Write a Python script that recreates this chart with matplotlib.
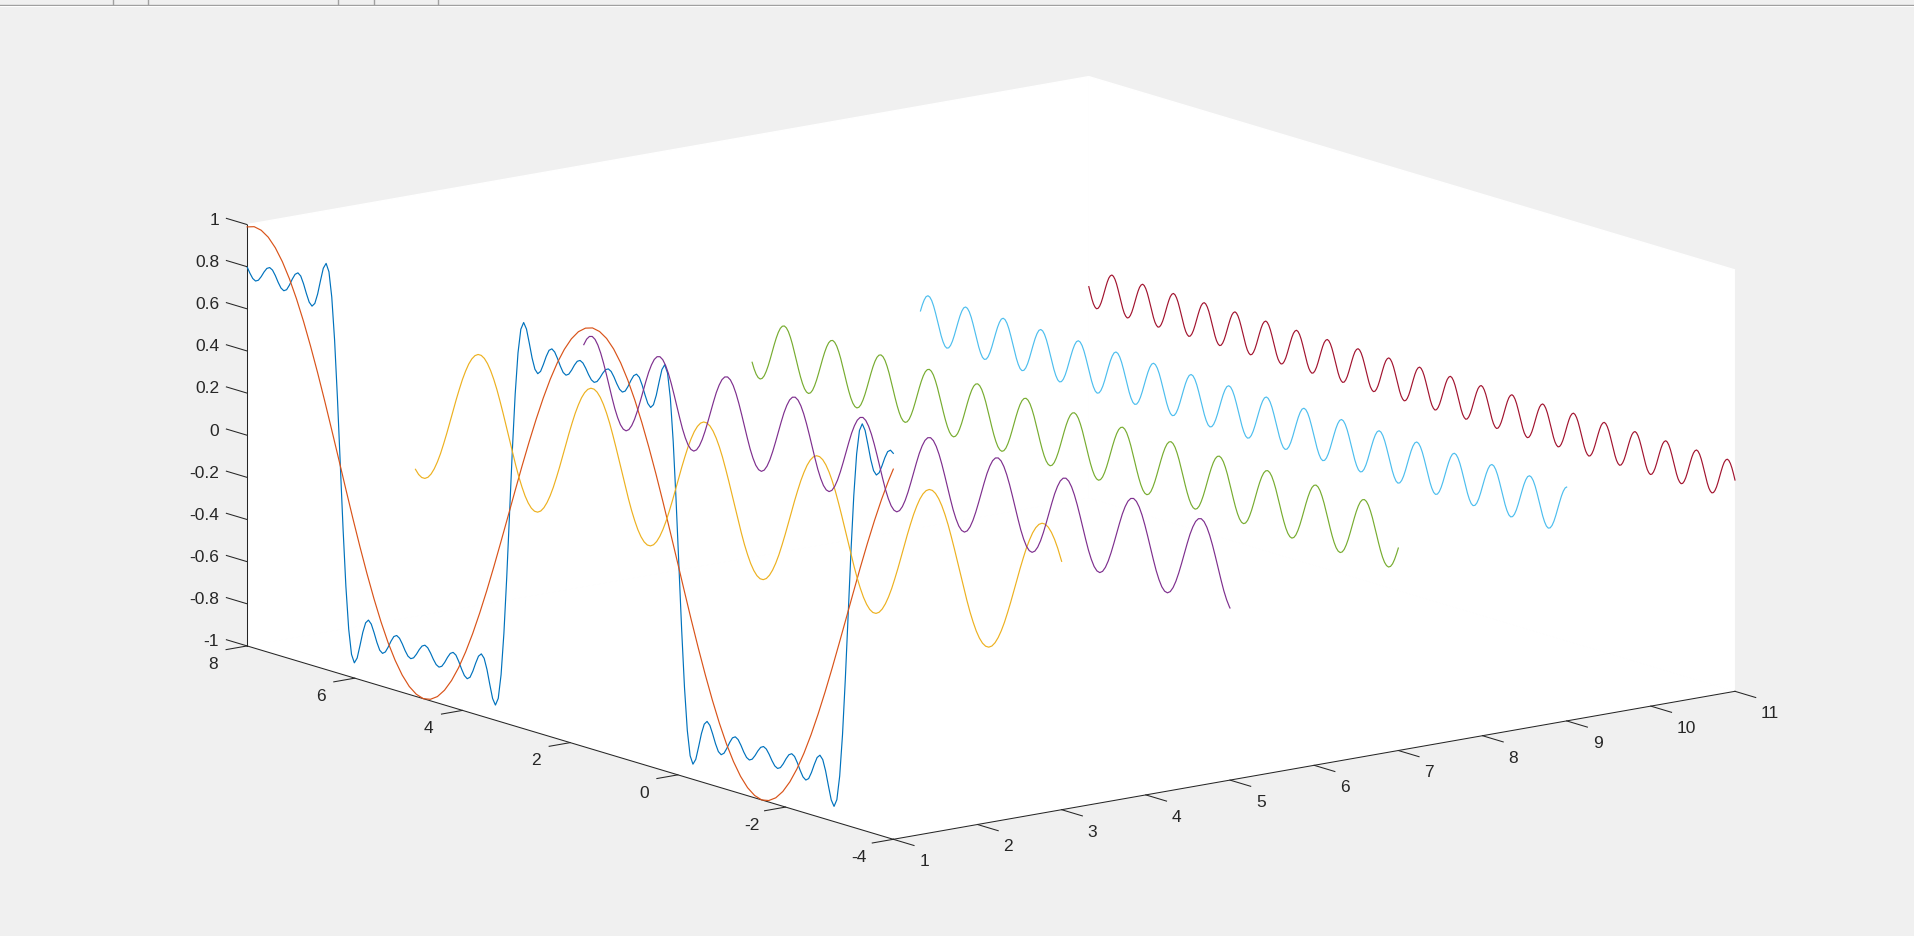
"""Partial sums of a square wave drawn on a 3D box, MATLAB plot3 look"""
import matplotlib
matplotlib.use('Agg')
import matplotlib.pyplot as plt
import numpy as np
from matplotlib.lines import Line2D
from mpl_toolkits.mplot3d import proj3d

plt.rcParams['font.family'] = ['Liberation Sans', 'DejaVu Sans']

x_ticks = [1, 2, 3, 4, 5, 6, 7, 8, 9, 10, 11]
y_ticks = [-4, -2, 0, 2, 4, 6, 8]
z_ticks = [-1, -0.8, -0.6, -0.4, -0.2, 0, 0.2, 0.4, 0.6, 0.8, 1]
x_tick_labels = ['1', '2', '3', '4', '5', '6', '7', '8', '9', '10', '11']
y_tick_labels = ['-4', '-2', '0', '2', '4', '6', '8']
z_tick_labels = ['-1', '-0.8', '-0.6', '-0.4', '-0.2', '0', '0.2', '0.4', '0.6', '0.8', '1']

# where each curve sits along x
plane_blue = 1
plane_red = 1
plane_orange = 3
plane_purple = 5
plane_green = 7
plane_cyan = 9
plane_wine = 11

# values, from y=8 down to y=-4
z_blue = [
    .799, .773, .752, .744, .752, .773, .799, .820, .828, .820, .798, .770, .747, .738, .747, .773, .805,
    .832, .843, .832, .799, .757, .720, .705, .722, .771, .838, .901, .928, .892, .776, .576, .307, 0,
    -.307, -.576, -.776, -.892, -.928, -.901, -.838, -.771, -.722, -.705, -.720, -.757, -.799, -.832, -.843,
    -.832, -.805, -.773, -.747, -.738, -.747, -.770, -.798, -.820, -.828, -.820, -.799, -.773, -.752, -.744,
    -.752, -.773, -.799, -.820, -.828, -.820, -.798, -.770, -.747, -.738, -.747, -.773, -.805, -.832, -.843,
    -.832, -.799, -.757, -.720, -.705, -.722, -.771, -.838, -.901, -.928, -.892, -.776, -.576, -.307, 0,
    .307, .576, .776, .892, .928, .901, .838, .771, .722, .705, .720, .757, .799, .832, .843,
    .832, .805, .773, .747, .738, .747, .770, .798, .820, .828, .820, .799, .773, .752, .744,
    .752, .773, .799, .820, .828, .820, .798, .770, .747, .738, .747, .773, .805, .832, .843,
    .832, .799, .757, .720, .705, .722, .771, .838, .901, .928, .892, .776, .576, .307, 0,
    -.307, -.576, -.776, -.892, -.928, -.901, -.838, -.771, -.722, -.705, -.720, -.757, -.799, -.832, -.843,
    -.832, -.805, -.773, -.747, -.738, -.747, -.770, -.798, -.820, -.828, -.820, -.799, -.773, -.752, -.744,
    -.752, -.773, -.799, -.820, -.828, -.820, -.798, -.770, -.747, -.738, -.747, -.773, -.805, -.832, -.843,
    -.832, -.799, -.757, -.720, -.705, -.722, -.771, -.838, -.901, -.928, -.892, -.776, -.576, -.307, 0,
    .307, .576, .776, .892, .928, .901, .838, .771, .722, .705, .720, .757, .799, .832, .843, .832,
]
z_red = [
    .989, 1.0, .993, .970, .930, .874, .803, .718, .621, .513, .397, .274, .146, .016, -.115, -.244, -.368, -.486, -.596, -.696, -.784, -.858, -.918, -.962,
    -.989, -1.0, -.993, -.970, -.930, -.874, -.803, -.718, -.621, -.513, -.397, -.274, -.146, -.016, .115, .244, .368, .486, .596, .696, .784, .858, .918, .962,
    .989, 1.0, .993, .970, .930, .874, .803, .718, .621, .513, .397, .274, .146, .016, -.115, -.244, -.368, -.486, -.596, -.696, -.784, -.858, -.918, -.962,
    -.989, -1.0, -.993, -.970, -.930, -.874, -.803, -.718, -.621, -.513, -.397, -.274, -.146, -.016, .115, .244, .368, .486, .596, .696, .757,
]
z_orange = [
    -.302, -.322, -.332, -.332, -.322, -.302, -.273, -.236, -.192, -.141, -.087, -.030, .028, .086, .140, .191, .235, .273,
    .302, .322, .332, .332, .322, .302, .273, .236, .192, .141, .087, .030, -.028, -.086, -.140, -.191, -.235, -.273,
    -.302, -.322, -.332, -.332, -.322, -.302, -.273, -.236, -.192, -.141, -.087, -.030, .028, .086, .140, .191, .235, .273,
    .302, .322, .332, .332, .322, .302, .273, .236, .192, .141, .087, .030, -.028, -.086, -.140, -.191, -.235, -.273,
    -.302, -.322, -.332, -.332, -.322, -.302, -.273, -.236, -.192, -.141, -.087, -.030, .028, .086, .140, .191, .235, .273,
    .302, .322, .332, .332, .322, .302, .273, .236, .192, .141, .087, .030, -.028, -.086, -.140, -.191, -.235, -.273,
    -.302, -.322, -.332, -.332, -.322, -.302, -.273, -.236, -.192, -.141, -.087, -.030, .028, .086, .140, .191, .235, .273,
    .302, .322, .332, .332, .322, .302, .273, .236, .192, .141, .087, .030, -.028, -.086, -.140, -.191, -.235, -.273,
    -.302, -.322, -.332, -.332, -.322, -.302, -.273, -.236, -.192, -.141, -.087, -.030, .028, .086, .140, .191, .235, .273,
    .302, .322, .332, .332, .322, .302, .273, .236, .192, .141, .087, .030, -.028, -.086, -.140, -.191, -.235, -.273,
    -.302, -.322, -.332, -.332, -.322, -.302, -.273, -.236, -.192, -.141, -.087, -.030, .028, .086, .140, .191, .235, .273,
    .302, .322, .332, .332, .322, .302, .273, .236, .192, .179,
]
z_purple = [
    .149, .179, .196, .200, .190, .167, .133, .090, .041, -.011, -.062, -.110, -.149, -.179, -.196, -.200, -.190, -.167, -.133, -.090, -.041, .011, .062, .110,
    .149, .179, .196, .200, .190, .167, .133, .090, .041, -.011, -.062, -.110, -.149, -.179, -.196, -.200, -.190, -.167, -.133, -.090, -.041, .011, .062, .110,
    .149, .179, .196, .200, .190, .167, .133, .090, .041, -.011, -.062, -.110, -.149, -.179, -.196, -.200, -.190, -.167, -.133, -.090, -.041, .011, .062, .110,
    .149, .179, .196, .200, .190, .167, .133, .090, .041, -.011, -.062, -.110, -.149, -.179, -.196, -.200, -.190, -.167, -.133, -.090, -.041, .011, .062, .110,
    .149, .179, .196, .200, .190, .167, .133, .090, .041, -.011, -.062, -.110, -.149, -.179, -.196, -.200, -.190, -.167, -.133, -.090, -.041, .011, .062, .110,
    .149, .179, .196, .200, .190, .167, .133, .090, .041, -.011, -.062, -.110, -.149, -.179, -.196, -.200, -.190, -.167, -.133, -.090, -.041, .011, .062, .110,
    .149, .179, .196, .200, .190, .167, .133, .090, .041, -.011, -.062, -.110, -.149, -.179, -.196, -.200, -.190, -.167, -.133, -.090, -.041, .011, .062, .110,
    .149, .179, .196, .200, .190, .167, .133, .090, .041, -.011, -.062, -.110, -.149, -.179, -.196, -.200, -.190, -.167, -.133, -.090, -.041, .011, .062, .110,
    .149, .179, .196, .200, .190, .167, .133, .090, .041, -.011, -.062, -.110, -.149, -.179, -.196, -.200, -.190, -.167, -.133, -.090, -.041, .011, .062, .110,
    .149, .179, .196, .200, .190, .167, .133, .090, .041, -.011, -.062, -.110, -.149, -.179, -.183,
]
z_green = [
    -.075, -.104, -.126, -.139, -.143, -.137, -.122, -.098, -.068, -.033, .004, .041, .075, .104, .126, .139, .143, .137, .122, .098, .068, .033, -.004, -.041,
    -.075, -.104, -.126, -.139, -.143, -.137, -.122, -.098, -.068, -.033, .004, .041, .075, .104, .126, .139, .143, .137, .122, .098, .068, .033, -.004, -.041,
    -.075, -.104, -.126, -.139, -.143, -.137, -.122, -.098, -.068, -.033, .004, .041, .075, .104, .126, .139, .143, .137, .122, .098, .068, .033, -.004, -.041,
    -.075, -.104, -.126, -.139, -.143, -.137, -.122, -.098, -.068, -.033, .004, .041, .075, .104, .126, .139, .143, .137, .122, .098, .068, .033, -.004, -.041,
    -.075, -.104, -.126, -.139, -.143, -.137, -.122, -.098, -.068, -.033, .004, .041, .075, .104, .126, .139, .143, .137, .122, .098, .068, .033, -.004, -.041,
    -.075, -.104, -.126, -.139, -.143, -.137, -.122, -.098, -.068, -.033, .004, .041, .075, .104, .126, .139, .143, .137, .122, .098, .068, .033, -.004, -.041,
    -.075, -.104, -.126, -.139, -.143, -.137, -.122, -.098, -.068, -.033, .004, .041, .075, .104, .126, .139, .143, .137, .122, .098, .068, .033, -.004, -.041,
    -.075, -.104, -.126, -.139, -.143, -.137, -.122, -.098, -.068, -.033, .004, .041, .075, .104, .126, .139, .143, .137, .122, .098, .068, .033, -.004, -.041,
    -.075, -.104, -.126, -.139, -.143, -.137, -.122, -.098, -.068, -.033, .004, .041, .075, .104, .126, .139, .143, .137, .122, .098, .068, .033, -.004, -.041,
    -.075, -.104, -.126, -.139, -.143, -.137, -.122, -.098, -.068, -.033, .004, .041, .075, .104, .126, .139, .143, .137, .122, .098, .068, .033, -.004, -.041,
    -.075, -.104, -.126, -.139, -.143, -.137, -.122, -.098, -.068, -.033, .004, .041, .075, .104, .126, .139, .143, .137, .122, .098, .068, .033, -.004, -.041,
    -.075, -.104, -.126, -.139, -.143, -.137, -.122, -.098, -.068, -.033, .004, .041, .075, .104, .126, .139, .143, .137, .122, .098, .068, .033, -.004, -.041,
    -.075, -.104, -.126, -.139, -.143, -.137, -.122, -.098, -.068, -.033, .004, .041, .075, .104, .126, .139, .143, .137, .122, .098, .068, .033, -.004, -.041,
    -.075, -.104, -.126, -.139, -.143, -.137, -.122, -.098, -.068, -.039,
]
z_cyan = [
    .028, .060, .086, .104, .111, .107, .093, .070, .040, .006, -.028, -.060, -.086, -.104, -.111, -.107, -.093, -.070, -.040, -.006,
    .028, .060, .086, .104, .111, .107, .093, .070, .040, .006, -.028, -.060, -.086, -.104, -.111, -.107, -.093, -.070, -.040, -.006,
    .028, .060, .086, .104, .111, .107, .093, .070, .040, .006, -.028, -.060, -.086, -.104, -.111, -.107, -.093, -.070, -.040, -.006,
    .028, .060, .086, .104, .111, .107, .093, .070, .040, .006, -.028, -.060, -.086, -.104, -.111, -.107, -.093, -.070, -.040, -.006,
    .028, .060, .086, .104, .111, .107, .093, .070, .040, .006, -.028, -.060, -.086, -.104, -.111, -.107, -.093, -.070, -.040, -.006,
    .028, .060, .086, .104, .111, .107, .093, .070, .040, .006, -.028, -.060, -.086, -.104, -.111, -.107, -.093, -.070, -.040, -.006,
    .028, .060, .086, .104, .111, .107, .093, .070, .040, .006, -.028, -.060, -.086, -.104, -.111, -.107, -.093, -.070, -.040, -.006,
    .028, .060, .086, .104, .111, .107, .093, .070, .040, .006, -.028, -.060, -.086, -.104, -.111, -.107, -.093, -.070, -.040, -.006,
    .028, .060, .086, .104, .111, .107, .093, .070, .040, .006, -.028, -.060, -.086, -.104, -.111, -.107, -.093, -.070, -.040, -.006,
    .028, .060, .086, .104, .111, .107, .093, .070, .040, .006, -.028, -.060, -.086, -.104, -.111, -.107, -.093, -.070, -.040, -.006,
    .028, .060, .086, .104, .111, .107, .093, .070, .040, .006, -.028, -.060, -.086, -.104, -.111, -.107, -.093, -.070, -.040, -.006,
    .028, .060, .086, .104, .111, .107, .093, .070, .040, .006, -.028, -.060, -.086, -.104, -.111, -.107, -.093, -.070, -.040, -.006,
    .028, .060, .086, .104, .111, .107, .093, .070, .040, .006, -.028, -.060, -.086, -.104, -.111, -.107, -.093, -.070, -.040, -.006,
    .028, .060, .086, .104, .111, .107, .093, .070, .040, .006, -.028, -.060, -.086, -.104, -.111, -.107, -.093, -.070, -.040, -.006,
    .028, .060, .086, .104, .111, .107, .093, .070, .040, .006, -.028, -.060, -.086, -.104, -.111, -.107, -.093, -.070, -.040, -.006,
    .028, .060, .086, .104, .111, .107, .093, .070, .040, .006, -.028, -.060, -.086, -.104, -.111, -.107, -.093, -.070, -.040, -.006,
    .028, .060, .086, .104, .111, .107, .093, .070, .040, .006, -.028, -.060, -.086, -.104, -.111, -.107, -.093, -.070, -.040, -.006,
    .028, .060, .086, .104, .110,
]
z_wine = [
    .003, -.025, -.051, -.072, -.085, -.091, -.087, -.075, -.056, -.031, -.003, .025, .051, .072, .085, .091, .087, .075, .056, .031,
    .003, -.025, -.051, -.072, -.085, -.091, -.087, -.075, -.056, -.031, -.003, .025, .051, .072, .085, .091, .087, .075, .056, .031,
    .003, -.025, -.051, -.072, -.085, -.091, -.087, -.075, -.056, -.031, -.003, .025, .051, .072, .085, .091, .087, .075, .056, .031,
    .003, -.025, -.051, -.072, -.085, -.091, -.087, -.075, -.056, -.031, -.003, .025, .051, .072, .085, .091, .087, .075, .056, .031,
    .003, -.025, -.051, -.072, -.085, -.091, -.087, -.075, -.056, -.031, -.003, .025, .051, .072, .085, .091, .087, .075, .056, .031,
    .003, -.025, -.051, -.072, -.085, -.091, -.087, -.075, -.056, -.031, -.003, .025, .051, .072, .085, .091, .087, .075, .056, .031,
    .003, -.025, -.051, -.072, -.085, -.091, -.087, -.075, -.056, -.031, -.003, .025, .051, .072, .085, .091, .087, .075, .056, .031,
    .003, -.025, -.051, -.072, -.085, -.091, -.087, -.075, -.056, -.031, -.003, .025, .051, .072, .085, .091, .087, .075, .056, .031,
    .003, -.025, -.051, -.072, -.085, -.091, -.087, -.075, -.056, -.031, -.003, .025, .051, .072, .085, .091, .087, .075, .056, .031,
    .003, -.025, -.051, -.072, -.085, -.091, -.087, -.075, -.056, -.031, -.003, .025, .051, .072, .085, .091, .087, .075, .056, .031,
    .003, -.025, -.051, -.072, -.085, -.091, -.087, -.075, -.056, -.031, -.003, .025, .051, .072, .085, .091, .087, .075, .056, .031,
    .003, -.025, -.051, -.072, -.085, -.091, -.087, -.075, -.056, -.031, -.003, .025, .051, .072, .085, .091, .087, .075, .056, .031,
    .003, -.025, -.051, -.072, -.085, -.091, -.087, -.075, -.056, -.031, -.003, .025, .051, .072, .085, .091, .087, .075, .056, .031,
    .003, -.025, -.051, -.072, -.085, -.091, -.087, -.075, -.056, -.031, -.003, .025, .051, .072, .085, .091, .087, .075, .056, .031,
    .003, -.025, -.051, -.072, -.085, -.091, -.087, -.075, -.056, -.031, -.003, .025, .051, .072, .085, .091, .087, .075, .056, .031,
    .003, -.025, -.051, -.072, -.085, -.091, -.087, -.075, -.056, -.031, -.003, .025, .051, .072, .085, .091, .087, .075, .056, .031,
    .003, -.025, -.051, -.072, -.085, -.091, -.087, -.075, -.056, -.031, -.003, .025, .051, .072, .085, .091, .087, .075, .056, .031,
    .003, -.025, -.051, -.072, -.085, -.091, -.087, -.075, -.056, -.031, -.003, .025, .051, .072, .085, .091, .087, .075, .056, .031,
    .003, -.025, -.051, -.072, -.085, -.091, -.087, -.075, -.056, -.031, -.003, .025, .051, .072, .085, .091, .087, .075, .056, .031,
    .003, -.025, -.051, -.072, -.085, -.091, -.087, -.075, -.056, -.031, -.003, .025, .051, .072, .085, .091, .087, .075, .056, .031,
    .003, -.025, -.051, -.072, -.085, -.091, -.087, -.075, -.056, -.031, -.003, .025, .051, .072, .085, .091, .087, .075, .056, .031,
    .003,
]

# y positions of the samples, the last one lands on the -4 wall
y_blue = np.linspace(8, -4, len(z_blue))
y_red = np.r_[np.arange(8, -4, -0.1309), -4]
y_orange = np.r_[np.arange(8, -4, -0.05818), -4]
y_purple = np.r_[np.arange(8, -4, -0.05236), -4]
y_green = np.r_[np.arange(8, -4, -0.0374), -4]
y_cyan = np.r_[np.arange(8, -4, -0.034907), -4]
y_wine = np.linspace(8, -4, len(z_wine))


def corner_px(ax, x, y, z):
    xp, yp, _ = proj3d.proj_transform(x, y, z, ax.get_proj())
    return ax.transData.transform((xp, yp))


def fit_axes(fig, ax, width, height):
    """scale and move the square axes so the box lands where it should"""
    target_origin = np.array([893.3, height - 839.3])
    target_len = 854.6
    side = 900.0
    ax.set_position([0.02, 0.02, side / width, side / height])
    fig.canvas.draw()
    a = corner_px(ax, 1, -4, -1)
    b = corner_px(ax, 11, -4, -1)
    side *= target_len / np.hypot(*(b - a))
    ax.set_position([0.02, 0.02, side / width, side / height])
    fig.canvas.draw()
    a = corner_px(ax, 1, -4, -1)
    left = 0.02 * width + target_origin[0] - a[0]
    bottom = 0.02 * height + target_origin[1] - a[1]
    ax.set_position([left / width, bottom / height, side / width, side / height])
    fig.canvas.draw()


def main():
    width, height = 1915, 936
    fig = plt.figure(figsize=(width / 100, height / 100), dpi=100, facecolor='#f0f0f0')
    ax = fig.add_axes([0.02, 0.02, 0.5, 0.5], projection='3d', proj_type='ortho',
                      computed_zorder=False)
    ax.patch.set_visible(False)
    ax.set_box_aspect((1060.5, 1062.2, 432.9))
    ax.view_init(elev=13.26, azim=-127.47)

    lw = 0.85
    ax.plot(np.full(len(y_blue), plane_blue), y_blue, z_blue, color='#0072BD', lw=lw, clip_on=False)
    ax.plot(np.full(len(y_red), plane_red), y_red, z_red, color='#D95319', lw=lw, clip_on=False)
    ax.plot(np.full(len(y_orange), plane_orange), y_orange, z_orange, color='#EDB120', lw=lw, clip_on=False)
    ax.plot(np.full(len(y_purple), plane_purple), y_purple, z_purple, color='#7E2F8E', lw=lw, clip_on=False)
    ax.plot(np.full(len(y_green), plane_green), y_green, z_green, color='#77AC30', lw=lw, clip_on=False)
    ax.plot(np.full(len(y_cyan), plane_cyan), y_cyan, z_cyan, color='#4DBEEE', lw=lw, clip_on=False)
    ax.plot(np.full(len(y_wine), plane_wine), y_wine, z_wine, color='#A2142F', lw=lw, clip_on=False)

    ax.set_xlim(1, 11, view_margin=0)
    ax.set_ylim(-4, 8, view_margin=0)
    ax.set_zlim(-1, 1, view_margin=0)
    ax.set_xticks(x_ticks)
    ax.set_yticks(y_ticks)
    ax.set_zticks(z_ticks)
    ax.set_xticklabels([])
    ax.set_yticklabels([])
    ax.set_zticklabels([])
    ax.grid(False)
    ax.zaxis.set_ticks_position('upper')

    dark = '#262626'
    for axis in (ax.xaxis, ax.yaxis, ax.zaxis):
        axis.set_pane_color('white')
        axis.pane.set_edgecolor('white')
        axis.line.set_color(dark)
        axis.line.set_linewidth(0.75)
        axis._axinfo['tick']['inward_factor'] = 0
        axis._axinfo['tick']['outward_factor'] = 0
        axis._axinfo['tick']['linewidth'] = {True: 0, False: 0}

    # MATLAB's ticks stick out of the box, mplot3d would turn some of them inwards
    tick_style = dict(color=dark, lw=0.75, clip_on=False)
    for xt in x_ticks:
        ax.plot([xt, xt], [-4, -4.385], [-1, -1], **tick_style)
    for yt in y_ticks:
        ax.plot([1, 0.75], [yt, yt], [-1, -1], **tick_style)
    for zt in z_ticks:
        ax.plot([1, 1], [8, 8.385], [zt, zt], **tick_style)

    fit_axes(fig, ax, width, height)

    # tick labels go on the figure, at the projected spot of their tick
    label_style = dict(color=dark, fontsize=12.5, va='center')
    for xt, label in zip(x_ticks, x_tick_labels):
        px = corner_px(ax, xt, -4.483, -1.069)
        fig.text(px[0] / width, px[1] / height, label, ha='left', **label_style)
    for yt, label in zip(y_ticks, y_tick_labels):
        px = corner_px(ax, 0.596, yt, -1.058)
        fig.text(px[0] / width, px[1] / height, label, ha='center', **label_style)
    for zt, label in zip(z_ticks, z_tick_labels):
        px = corner_px(ax, 1, 8.52, zt - 0.02)
        fig.text(px[0] / width, px[1] / height, label, ha='right', **label_style)

    # bit of the window toolbar that was left in the screenshot
    fig.add_artist(Line2D([0, 1], [1 - 4.5 / height] * 2, color='#a0a0a0', lw=1))
    fig.add_artist(Line2D([0, 1], [1 - 5.8 / height] * 2, color='white', lw=0.7))
    for notch in (112.7, 148.3, 338.3, 374.3, 438.3):
        fig.add_artist(Line2D([notch / width] * 2, [1 - 4 / height, 1], color='#a0a0a0', lw=1))

    plt.savefig('out.png', dpi=100, facecolor=fig.get_facecolor())


if __name__ == '__main__':
    main()
